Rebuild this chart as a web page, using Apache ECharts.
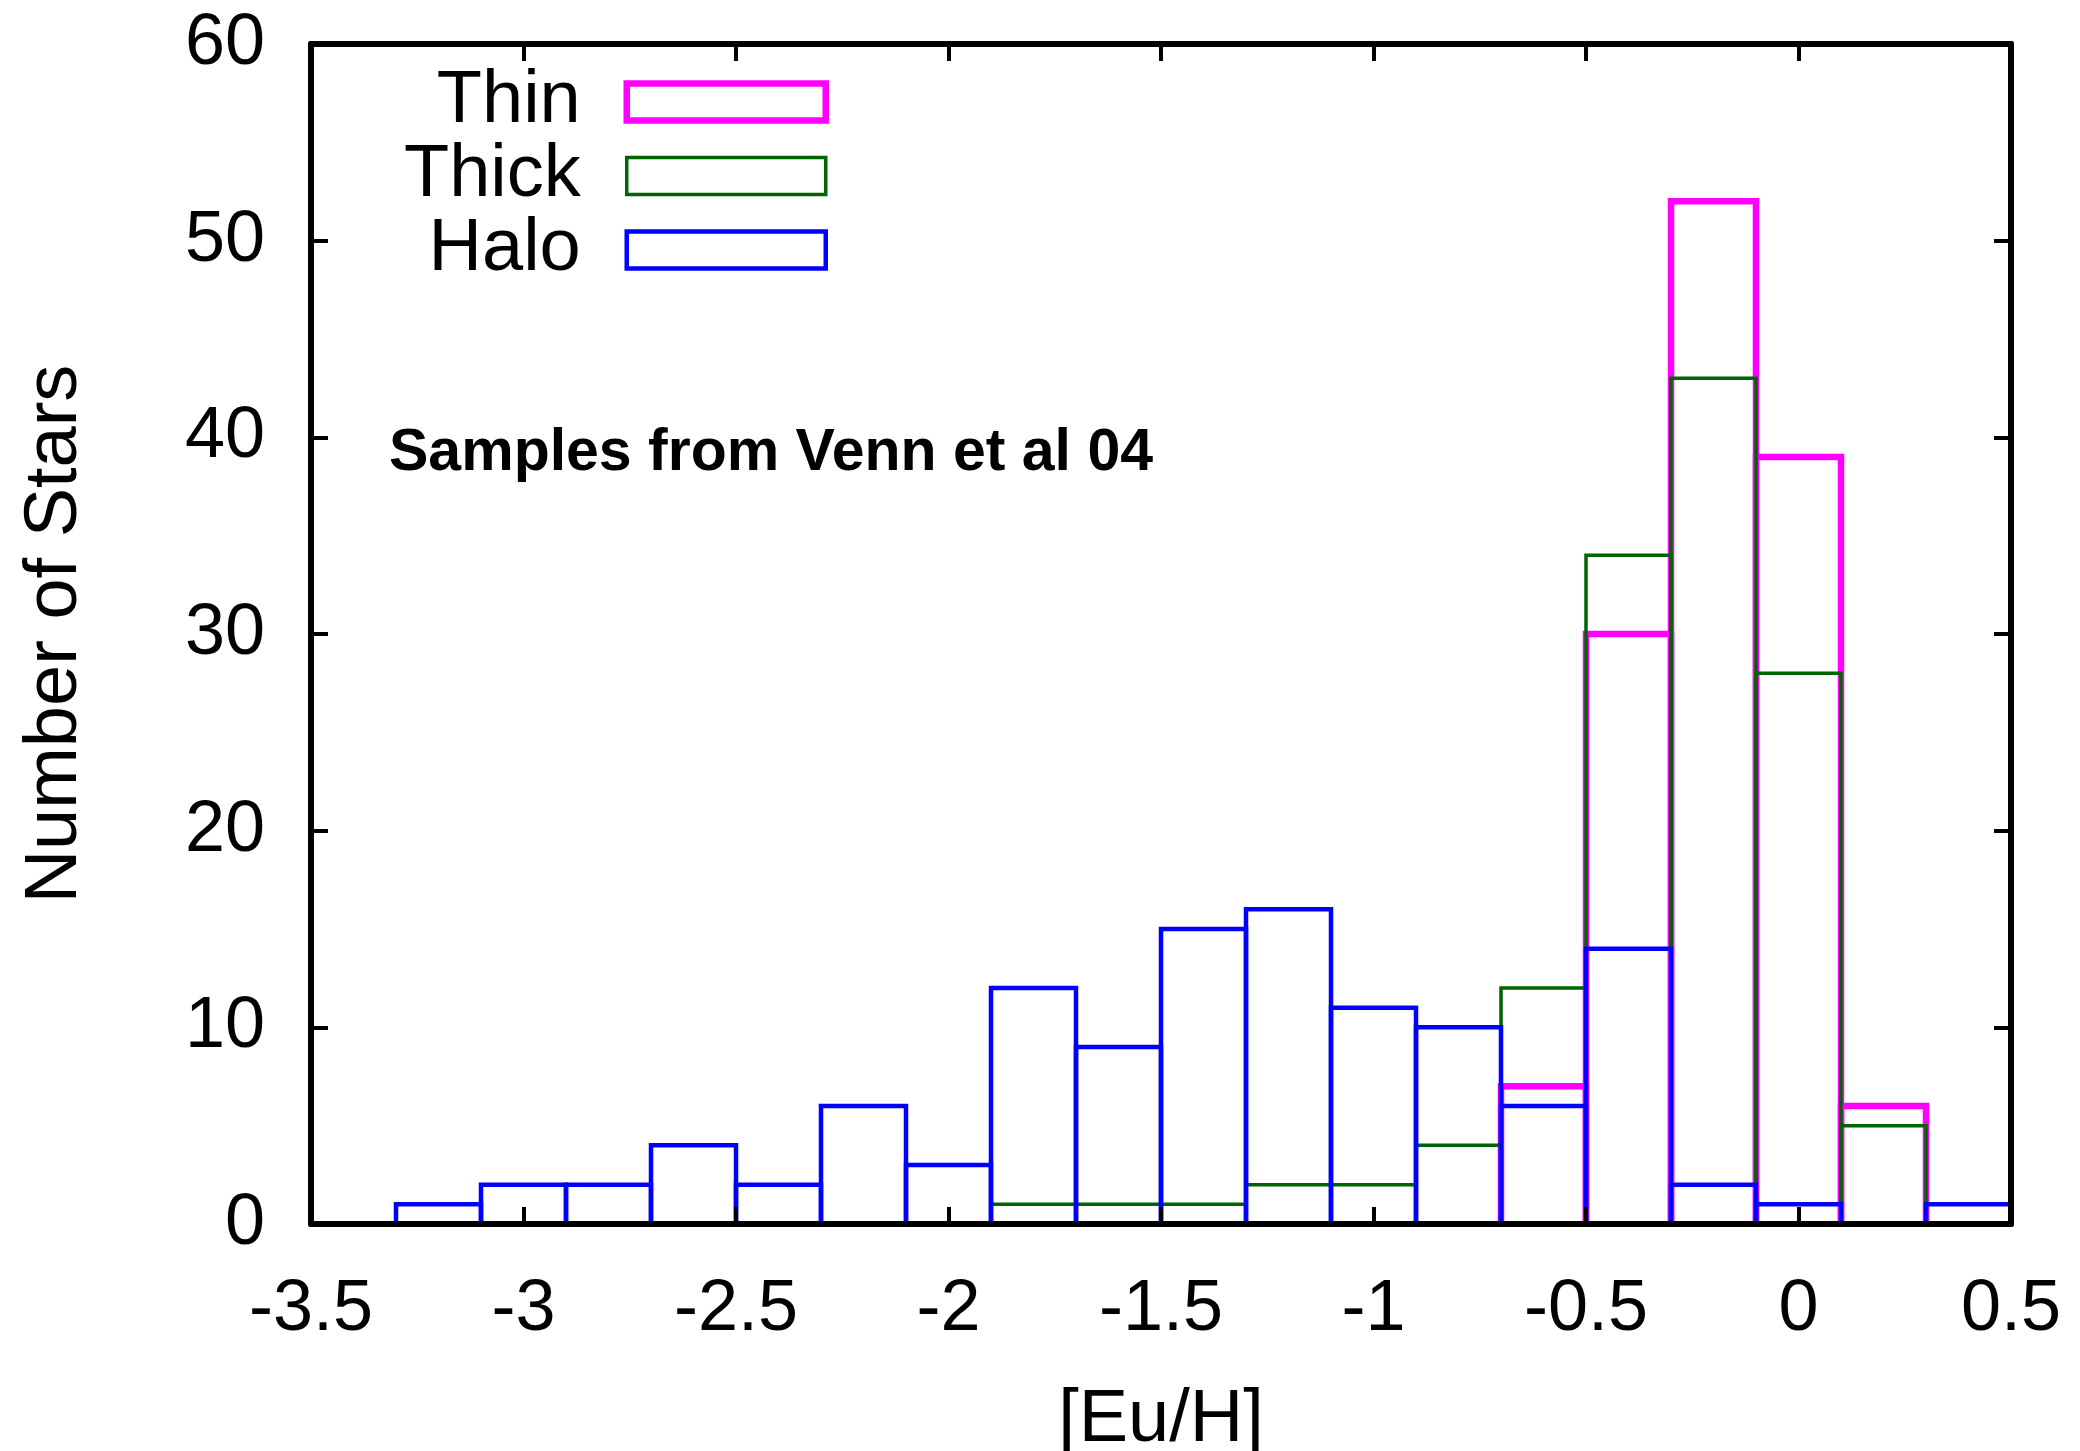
<!DOCTYPE html>
<html>
<head>
<meta charset="utf-8">
<script src="https://cdn.jsdelivr.net/npm/echarts@6/dist/echarts.min.js"></script>
<style>
  html, body { margin: 0; padding: 0; background: #fff; }
  #chart { width: 2080px; height: 1451px; }
</style>
</head>
<body>
<div id="chart"></div>
<script>
// histogram bins of [Eu/H], width 0.2
const binLefts = [-3.3, -3.1, -2.9, -2.7, -2.5, -2.3, -2.1, -1.9, -1.7, -1.5,
                  -1.3, -1.1, -0.9, -0.7, -0.5, -0.3, -0.1, 0.1, 0.3];
const binWidth = 0.2;
const thinCounts  = [0, 0, 0, 0, 0, 0, 0, 0, 0, 0, 0, 0, 0, 7, 30, 52, 39, 6, 0];
const thickCounts = [0, 0, 0, 0, 0, 0, 0, 1, 1, 1, 2, 2, 4, 12, 34, 43, 28, 5, 0];
const haloCounts  = [1, 2, 2, 4, 2, 6, 3, 12, 9, 15, 16, 11, 10, 6, 14, 2, 1, 0, 1];
const xTicks = [-3.5, 0.5, 0.5];   // min, max, step
const yTicks = [0, 60, 10];

const font = "'Liberation Sans', Arial, Helvetica, sans-serif";

function binData(counts) {
  return binLefts.map(function (x, i) {
    return [x, Math.round((x + binWidth) * 10) / 10, counts[i]];
  });
}

function boxes(color, width) {
  return function (params, api) {
    const x0 = api.value(0), x1 = api.value(1), n = api.value(2);
    if (!n) return null;
    const pts = [
      api.coord([x0, 0]), api.coord([x0, n]),
      api.coord([x1, n]), api.coord([x1, 0])
    ];
    return {
      type: 'polyline',
      shape: { points: pts },
      style: { fill: 'none', stroke: color, lineWidth: width }
    };
  };
}

const colors = { Thin: '#ff00ff', Thick: '#006400', Halo: '#0000ff' };
const widths = { Thin: 6.5, Thick: 3.5, Halo: 4.5 };

let chart = echarts.init(document.getElementById('chart'));

const axisCommon = {
  type: 'value',
  axisLine: { show: true, onZero: false, lineStyle: { color: '#000', width: 6 } },
  axisTick: { show: true, inside: true, length: 17, lineStyle: { color: '#000', width: 4 } },
  splitLine: { show: false },
  z: 10
};

function series(name, counts) {
  return {
    name: name,
    type: 'custom',
    renderItem: boxes(colors[name], widths[name]),
    encode: { x: [0, 1], y: 2 },
    itemStyle: { color: 'rgba(0,0,0,0)', borderColor: colors[name], borderWidth: widths[name] },
    data: binData(counts),
    clip: true
  };
}

let option = {
  backgroundColor: '#fff',
  animation: false,
  grid: { left: 311, right: 69, top: 44, bottom: 227, containLabel: false, outerBoundsMode: 'none' },
  legend: {
    orient: 'vertical',
    align: 'right',
    right: 1246,
    top: 60,
    itemWidth: 199,
    itemHeight: 37,
    itemGap: 0,
    icon: 'rect',
    textStyle: { fontFamily: font, fontSize: 74, color: '#000', lineHeight: 70, padding: [0, 41, 0, 0] },
    data: ['Thin', 'Thick', 'Halo'].map(function (n) {
      return {
        name: n,
        icon: 'rect',
        itemStyle: { color: 'rgba(0,0,0,0)', borderColor: colors[n], borderWidth: widths[n] }
      };
    })
  },
  graphic: [{
    type: 'text',
    left: 389,
    top: 424,
    style: { text: 'Samples from Venn et al 04', font: 'bold 59px ' + font, fill: '#000' }
  }],
  xAxis: [
    Object.assign({}, axisCommon, {
      position: 'bottom',
      min: xTicks[0], max: xTicks[1], interval: xTicks[2],
      name: '[Eu/H]',
      nameLocation: 'middle',
      nameGap: 160,
      nameTextStyle: { fontFamily: font, fontSize: 74, color: '#000' },
      axisLabel: { fontFamily: font, fontSize: 72, color: '#000', margin: 50 }
    }),
    Object.assign({}, axisCommon, {
      position: 'top',
      min: xTicks[0], max: xTicks[1], interval: xTicks[2],
      axisLabel: { show: false }
    })
  ],
  yAxis: [
    Object.assign({}, axisCommon, {
      position: 'left',
      min: yTicks[0], max: yTicks[1], interval: yTicks[2],
      name: 'Number of Stars',
      nameLocation: 'middle',
      nameGap: 218,
      nameTextStyle: { fontFamily: font, fontSize: 74, color: '#000' },
      axisLabel: { fontFamily: font, fontSize: 72, color: '#000', margin: 46 }
    }),
    Object.assign({}, axisCommon, {
      position: 'right',
      min: yTicks[0], max: yTicks[1], interval: yTicks[2],
      axisLabel: { show: false }
    })
  ],
  series: [
    series('Thin', thinCounts),
    series('Thick', thickCounts),
    series('Halo', haloCounts)
  ]
};

chart.setOption(option);
window.addEventListener('resize', function () {
  chart.resize();
});
</script>
</body>
</html>
